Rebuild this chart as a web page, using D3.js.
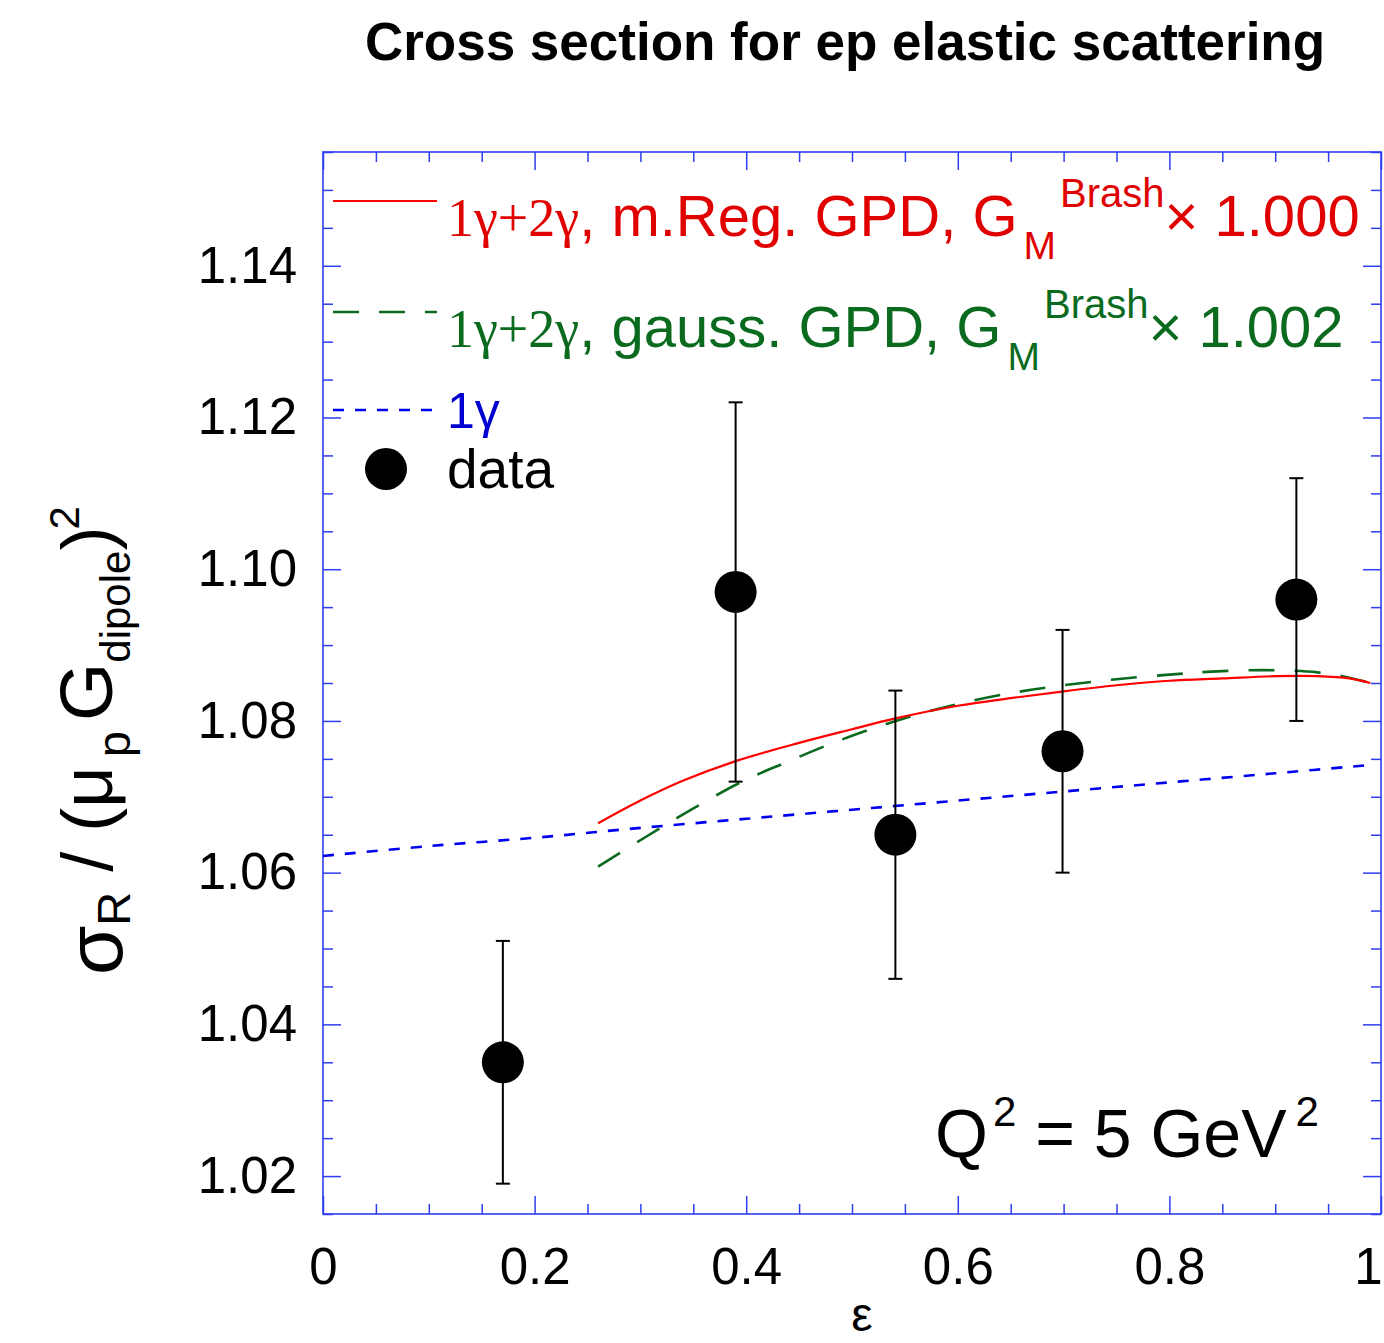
<!DOCTYPE html>
<html>
<head>
<meta charset="utf-8">
<script src="https://cdn.jsdelivr.net/npm/d3@7"></script>
<style>
  body { margin: 0; background: #fff; }
  svg text { font-family: "Liberation Sans", Arial, sans-serif; }
</style>
</head>
<body>
<svg id="chart" width="1384" height="1343"></svg>
<script>
// Measured reduced cross sections (epsilon, value, error)
const dataEps   = [0.170, 0.390, 0.541, 0.699, 0.920];
const dataSigma = [1.035, 1.097, 1.065, 1.076, 1.096];
const dataErr   = [0.016, 0.025, 0.019, 0.016, 0.016];

// One-photon exchange only
const oneGammaEps = [0.0, 0.1, 0.2, 0.3, 0.4, 0.5, 0.6, 0.7, 0.8, 0.9, 0.99];
const oneGammaVal = [1.0622, 1.0635, 1.0646, 1.0659, 1.0671, 1.0683, 1.0695, 1.0707, 1.0719, 1.0731, 1.0742];

// 1γ+2γ, modified Regge GPD
const mregEps = [0.26, 0.30, 0.34, 0.39, 0.45, 0.50, 0.54, 0.60, 0.65, 0.70, 0.75, 0.80, 0.85, 0.90, 0.94, 0.97, 0.99];
const mregVal = [1.0665, 1.0695, 1.0721, 1.0747, 1.0771, 1.0789, 1.0803, 1.0820, 1.0830, 1.0839, 1.0847, 1.0853, 1.0856, 1.0859, 1.0859, 1.0856, 1.0850];

// 1γ+2γ, gaussian GPD
const gaussEps = [0.26, 0.305, 0.348, 0.396, 0.437, 0.482, 0.526, 0.571, 0.615, 0.66, 0.70, 0.75, 0.80, 0.84, 0.89, 0.94, 0.97, 0.99];
const gaussVal = [1.0608, 1.0647, 1.0683, 1.0720, 1.0745, 1.0771, 1.0793, 1.0812, 1.0827, 1.0839, 1.0847, 1.0855, 1.0861, 1.0865, 1.0867, 1.0864, 1.0857, 1.0850];

// Axis ticks
const xMajorTicks = [0, 0.2, 0.4, 0.6, 0.8, 1];
const xMinorTicks = [0.05, 0.1, 0.15, 0.25, 0.3, 0.35, 0.45, 0.5, 0.55, 0.65, 0.7, 0.75, 0.85, 0.9, 0.95];
const yMajorTicks = [1.02, 1.04, 1.06, 1.08, 1.10, 1.12, 1.14];
const yMinorTicks = [1.015, 1.025, 1.03, 1.035, 1.045, 1.05, 1.055, 1.065, 1.07, 1.075,
                     1.085, 1.09, 1.095, 1.105, 1.11, 1.115, 1.125, 1.13, 1.135, 1.145, 1.15, 1.155];

const svg = d3.select("#chart");
const margin = { left: 323, right: 3, top: 152, bottom: 129 };
const W = 1384, H = 1343;
const x = d3.scaleLinear().domain([0, 1]).range([margin.left, W - margin.right]);
const y = d3.scaleLinear().domain([1.015, 1.155]).range([H - margin.bottom, margin.top]);

const axisColor = "#2f3cf0";
const x0 = x.range()[0], x1 = x.range()[1];
const y0 = y.range()[0], y1 = y.range()[1];

// Title
svg.append("text")
  .attr("x", 845).attr("y", 60)
  .attr("text-anchor", "middle")
  .attr("font-size", 53).attr("font-weight", "bold")
  .text("Cross section for ep elastic scattering");

// Tick marks on all four sides, pointing inward
function ticks(axisFn, scale, values, size, transform, withLabels, fmt, pad) {
  const g = svg.append("g").attr("transform", transform)
    .call(axisFn(scale).tickValues(values).tickSizeInner(-size).tickSizeOuter(0)
      .tickPadding(pad || 0).tickFormat(withLabels ? fmt : ""));
  g.select(".domain").remove();
  g.selectAll(".tick line").attr("stroke", axisColor).attr("stroke-width", 1.5);
  g.selectAll("text").attr("fill", "#000").attr("font-family", "Liberation Sans, Arial, sans-serif");
  return g;
}
const fx = d3.format("~g"), fy = d3.format(".2f");

const gxB = ticks(d3.axisBottom, x, xMajorTicks, 18, `translate(0,${y0})`, true, fx, 34);
gxB.selectAll("text").attr("font-size", 51);
// keep the last label inside the page
gxB.selectAll("text").filter(d => d === 1).attr("dx", -13);
ticks(d3.axisBottom, x, xMinorTicks, 10, `translate(0,${y0})`, false);
ticks(d3.axisTop, x, xMajorTicks, 18, `translate(0,${y1})`, false);
ticks(d3.axisTop, x, xMinorTicks, 10, `translate(0,${y1})`, false);

const gyL = ticks(d3.axisLeft, y, yMajorTicks, 18, `translate(${x0},0)`, true, fy, 26);
gyL.selectAll("text").attr("font-size", 51).attr("dy", "0.32em");
ticks(d3.axisLeft, y, yMinorTicks, 10, `translate(${x0},0)`, false);
ticks(d3.axisRight, y, yMajorTicks, 18, `translate(${x1},0)`, false);
ticks(d3.axisRight, y, yMinorTicks, 10, `translate(${x1},0)`, false);

// Frame
svg.append("rect")
  .attr("x", x0).attr("y", y1)
  .attr("width", x1 - x0).attr("height", y0 - y1)
  .attr("fill", "none").attr("stroke", axisColor).attr("stroke-width", 1.6);

// Curves
const line = d3.line().x(d => x(d[0])).y(d => y(d[1])).curve(d3.curveCatmullRom);
const zip = (a, b) => a.map((v, i) => [v, b[i]]);

const redC = "#ff0000", greenC = "#0a6a1e", blueC = "#0000f0";

svg.append("path").datum(zip(oneGammaEps, oneGammaVal))
  .attr("d", line).attr("fill", "none")
  .attr("stroke", blueC).attr("stroke-width", 2.6).attr("stroke-dasharray", "11,11");
svg.append("path").datum(zip(gaussEps, gaussVal))
  .attr("d", line).attr("fill", "none")
  .attr("stroke", greenC).attr("stroke-width", 2.6).attr("stroke-dasharray", "26,20");
svg.append("path").datum(zip(mregEps, mregVal))
  .attr("d", line).attr("fill", "none")
  .attr("stroke", redC).attr("stroke-width", 2.2);

// Data points with error bars
const pts = dataEps.map((e, i) => ({ e, v: dataSigma[i], err: dataErr[i] }));
const gp = svg.append("g");
gp.selectAll("line.bar").data(pts).join("line")
  .attr("x1", d => x(d.e)).attr("x2", d => x(d.e))
  .attr("y1", d => y(d.v - d.err)).attr("y2", d => y(d.v + d.err))
  .attr("stroke", "#000").attr("stroke-width", 2);
[-1, 1].forEach(s => {
  gp.selectAll(null).data(pts).join("line")
    .attr("x1", d => x(d.e) - 7).attr("x2", d => x(d.e) + 7)
    .attr("y1", d => y(d.v + s * d.err)).attr("y2", d => y(d.v + s * d.err))
    .attr("stroke", "#000").attr("stroke-width", 2);
});
gp.selectAll("circle").data(pts).join("circle")
  .attr("cx", d => x(d.e)).attr("cy", d => y(d.v)).attr("r", 21).attr("fill", "#000");

// Legend
const serif = "Liberation Serif, Times New Roman, serif";
function legendEntry(yBase, color, tail, factor) {
  const t = svg.append("text").attr("x", 447).attr("y", yBase).attr("fill", color).attr("font-size", 58);
  t.append("tspan").attr("font-family", serif).attr("font-size", 54).text("1γ+2γ");
  t.append("tspan").text(tail + "G");
  t.append("tspan").attr("font-size", 39).attr("dx", 6).attr("dy", 23).text("M");
  t.append("tspan").attr("font-size", 40).attr("dx", 4).attr("dy", -52).text("Brash");
  t.append("tspan").attr("dy", 29).text("× " + factor);
}
svg.append("line").attr("x1", 333).attr("x2", 437).attr("y1", 201).attr("y2", 201)
  .attr("stroke", redC).attr("stroke-width", 2.2);
legendEntry(236, "#e00000", ", m.Reg. GPD, ", "1.000");

svg.append("line").attr("x1", 333).attr("x2", 437).attr("y1", 312).attr("y2", 312)
  .attr("stroke", greenC).attr("stroke-width", 2.6).attr("stroke-dasharray", "26,20");
legendEntry(347, greenC, ", gauss. GPD, ", "1.002");

svg.append("line").attr("x1", 333).attr("x2", 437).attr("y1", 410).attr("y2", 410)
  .attr("stroke", blueC).attr("stroke-width", 2.6).attr("stroke-dasharray", "11,11");
svg.append("text").attr("x", 447).attr("y", 428).attr("fill", "#0000d0")
  .attr("font-family", serif).attr("font-size", 50).text("1γ");

svg.append("circle").attr("cx", 386).attr("cy", 469).attr("r", 21).attr("fill", "#000");
svg.append("text").attr("x", 447).attr("y", 488).attr("font-size", 55).text("data");

// Q^2 annotation
const q = svg.append("text").attr("x", 935).attr("y", 1157).attr("font-size", 68);
q.append("tspan").text("Q");
q.append("tspan").attr("font-size", 42).attr("dx", 5).attr("dy", -31).text("2");
q.append("tspan").attr("dy", 31).text(" = 5 GeV");
q.append("tspan").attr("font-size", 42).attr("dx", 9).attr("dy", -31).text("2");

// Axis titles
svg.append("text").attr("x", 862).attr("y", 1331).attr("text-anchor", "middle")
  .attr("font-family", serif).attr("font-size", 48).text("ε");

const yl = svg.append("text").attr("transform", "translate(112,975) rotate(-90)").attr("font-size", 72);
yl.append("tspan").attr("font-size", 80).attr("dy", 10).text("σ");
yl.append("tspan").attr("font-size", 47).attr("dy", 8).text("R");
yl.append("tspan").attr("dy", -18).text(" / (μ");
yl.append("tspan").attr("font-size", 47).attr("dx", 9).attr("dy", 18).text("p");
yl.append("tspan").attr("font-size", 75).attr("dx", 10).attr("dy", -18).text("G");
yl.append("tspan").attr("font-size", 42).attr("dy", 18).text("dipole");
yl.append("tspan").attr("dy", -18).text(")");
yl.append("tspan").attr("font-size", 42).attr("dx", -3).attr("dy", -33).text("2");
</script>
</body>
</html>
